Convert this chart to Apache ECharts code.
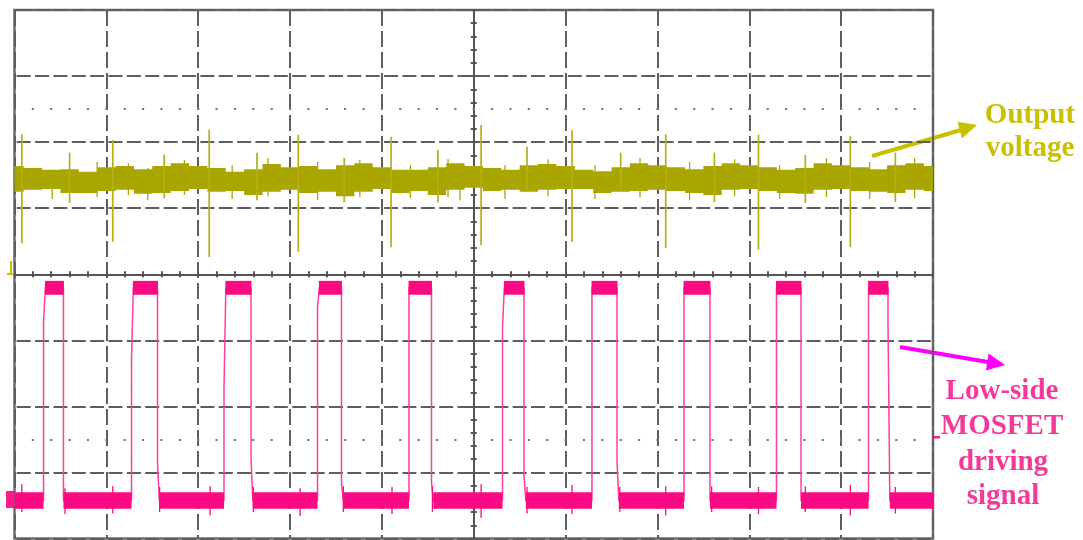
<!DOCTYPE html>
<html><head><meta charset="utf-8">
<script src="https://cdn.jsdelivr.net/npm/echarts@6/dist/echarts.min.js"></script>
<style>html,body{margin:0;padding:0;background:#fff}#c{width:1083px;height:540px}</style>
</head><body><div id="c"></div>
<script>
// Units: x = screen divisions from centre (-5..5), y = screen divisions (-4..4)

// Output voltage (channel 1): noise-band envelope
const envX = [-5.0,-4.8,-4.6,-4.4,-4.2,-4.0,-3.8,-3.6,-3.4,-3.2,-3.0,-2.8,-2.6,-2.4,-2.2,-2.0,-1.8,-1.6,-1.4,-1.2,-1.0,-0.8,-0.6,-0.4,-0.2,0.0,0.2,0.4,0.6,0.8,1.0,1.2,1.4,1.6,1.8,2.0,2.2,2.4,2.6,2.8,3.0,3.2,3.4,3.6,3.8,4.0,4.2,4.4,4.6,4.8,5.0];
const envTop = [1.64,1.61,1.58,1.59,1.55,1.62,1.64,1.59,1.64,1.68,1.64,1.61,1.55,1.59,1.67,1.62,1.64,1.59,1.65,1.68,1.62,1.58,1.58,1.62,1.68,1.64,1.61,1.58,1.65,1.67,1.64,1.58,1.56,1.62,1.68,1.65,1.62,1.59,1.64,1.68,1.65,1.62,1.58,1.61,1.68,1.65,1.62,1.59,1.65,1.68,1.64];
const envBottom = [1.25,1.28,1.29,1.23,1.23,1.26,1.28,1.22,1.23,1.26,1.29,1.25,1.26,1.20,1.25,1.28,1.23,1.25,1.18,1.25,1.29,1.23,1.26,1.20,1.28,1.31,1.26,1.28,1.25,1.28,1.29,1.29,1.23,1.25,1.26,1.28,1.26,1.23,1.20,1.28,1.29,1.26,1.23,1.22,1.28,1.29,1.26,1.25,1.23,1.28,1.26];

// Output voltage switching spikes (major then minor)
const spikeX = [-4.92,-3.93,-2.88,-1.91,-0.90,0.08,1.07,2.09,3.10,4.10,-4.40,-3.37,-2.36,-1.41,-0.39,0.58,1.60,2.62,3.61,4.59];
const spikeTop = [2.12,2.03,2.19,2.11,2.08,2.26,2.18,2.12,2.11,2.09,1.84,1.81,1.84,1.76,1.88,1.93,1.84,1.84,1.81,1.84];
const spikeBottom = [0.47,0.49,0.26,0.34,0.41,0.44,0.49,0.40,0.37,0.41,1.08,1.15,1.12,1.09,1.09,1.25,1.28,1.09,1.08,1.09];

// Output voltage small noise whiskers
const noiseX = [-4.59,-4.10,-3.76,-3.55,-3.15,-2.63,-2.24,-1.70,-1.24,-0.69,-0.28,-0.15,0.34,0.81,1.32,1.81,2.35,2.84,3.33,3.84,4.31,4.80];
const noiseTop = [1.58,1.70,1.68,1.61,1.73,1.65,1.76,1.70,1.73,1.65,1.74,1.68,1.65,1.74,1.65,1.76,1.70,1.74,1.65,1.76,1.70,1.76];
const noiseBottom = [1.14,1.17,1.20,1.12,1.20,1.14,1.18,1.12,1.17,1.15,1.17,1.12,1.14,1.18,1.14,1.17,1.12,1.18,1.14,1.17,1.14,1.15];

// Low-side MOSFET gate drive (channel 2)
const riseX = [-4.684,-3.726,-2.719,-1.701,-0.705,0.313,1.287,2.289,3.296,4.298];
const fallX = [-4.467,-3.443,-2.425,-1.440,-0.460,0.547,1.560,2.572,3.563,4.510];
const riseStep = [-0.72,-1.30,-1.71,-0.51,null,-0.80,null,null,null,null];
const fallStep = [null,-2.86,-2.78,-3.16,-3.15,-3.04,-2.84,null,null,-0.72];
const lowLevel = -3.43, highLevel = -0.20;
const lowBandTop = -3.30, lowBandBottom = -3.55;
const highBandTop = -0.10, highBandBottom = -0.31;
const gateNoiseX = [-4.92,-4.45,-3.93,-3.42,-2.87,-2.40,-1.89,-1.42,-0.89,-0.45,0.08,0.58,1.07,1.59,2.09,2.59,3.10,3.61,4.10,4.59];
const gateNoiseTop = [-3.18,-3.24,-3.21,-3.22,-3.21,-3.22,-3.24,-3.21,-3.22,-3.21,-3.18,-3.22,-3.19,-3.22,-3.21,-3.21,-3.22,-3.21,-3.19,-3.22];
const gateNoiseBottom = [-3.60,-3.63,-3.62,-3.60,-3.65,-3.60,-3.66,-3.60,-3.63,-3.60,-3.69,-3.62,-3.63,-3.60,-3.65,-3.60,-3.63,-3.60,-3.65,-3.62];

const SHIFT = 0.02;
const YELLOW = '#aaa600', PINK = '#fb0a84';

// build gate waveform path and bands
const gatePath = [[-5, lowLevel]];
const lowSegs = [], highSegs = [];
let prev = -5;
for (let i = 0; i < riseX.length; i++) {
  lowSegs.push([prev, riseX[i], lowBandTop, lowBandBottom]);
  gatePath.push([riseX[i], lowLevel]);
  let hx = riseX[i];
  if (riseStep[i] !== null) {
    gatePath.push([riseX[i], riseStep[i]], [riseX[i] + SHIFT, riseStep[i]]);
    hx = riseX[i] + SHIFT;
  }
  gatePath.push([hx, highLevel], [fallX[i], highLevel]);
  highSegs.push([hx - 0.005, fallX[i] + 0.005, highBandTop, highBandBottom]);
  let lx = fallX[i];
  if (fallStep[i] !== null) {
    gatePath.push([fallX[i], fallStep[i]], [fallX[i] + SHIFT, fallStep[i]]);
    lx = fallX[i] + SHIFT;
  }
  gatePath.push([lx, lowLevel]);
  prev = lx;
}
lowSegs.push([prev, 5, lowBandTop, lowBandBottom]);
gatePath.push([5, lowLevel]);

const spikes = spikeX.map((x, i) => [x, spikeTop[i], spikeBottom[i]]);
const noise = noiseX.map((x, i) => [x, noiseTop[i], noiseBottom[i]]);
const gateNoise = gateNoiseX.map((x, i) => [x, gateNoiseTop[i], gateNoiseBottom[i]]);
const bands = lowSegs.concat(highSegs);

function vline(color, w) {
  return function (params, api) {
    const a = api.coord([api.value(0), api.value(1)]);
    const b = api.coord([api.value(0), api.value(2)]);
    return {type: 'line', shape: {x1: a[0], y1: a[1], x2: b[0], y2: b[1]}, style: {stroke: color, lineWidth: w}};
  };
}

const GRIDC = '#5e5e5e';
const axisCommonX = {
  type: 'value', min: -5, max: 5, interval: 1,
  axisLine: {onZero: true, lineStyle: {color: '#555', width: 2}},
  axisTick: {show: true, length: 3, lineStyle: {color: '#555', width: 2}},
  minorTick: {show: true, splitNumber: 5, length: 3, lineStyle: {color: '#555', width: 2}},
  axisLabel: {show: false}
};
const axisCommonY = {
  type: 'value', min: -4, max: 4, interval: 1,
  axisLine: {onZero: true, lineStyle: {color: '#555', width: 2}},
  axisTick: {show: true, length: 3, lineStyle: {color: '#555', width: 2}},
  minorTick: {show: true, splitNumber: 5, length: 3, lineStyle: {color: '#555', width: 2}},
  axisLabel: {show: false}
};

const chart = echarts.init(document.getElementById('c'), null, {renderer: 'canvas'});
chart.setOption({
  animation: false,
  backgroundColor: '#fff',
  grid: {left: 14.5, top: 10, width: 918.5, height: 528.5, show: true, borderColor: '#6b6b6b', borderWidth: 2.5, containLabel: false},
  xAxis: [
    Object.assign({}, axisCommonX, {position: 'bottom', splitLine: {show: true, lineStyle: {color: GRIDC, width: 2, type: [16, 5]}}}),
    Object.assign({}, axisCommonX, {position: 'top', splitLine: {show: false}})
  ],
  yAxis: [
    Object.assign({}, axisCommonY, {position: 'left', splitLine: {show: true, lineStyle: {color: GRIDC, width: 2, type: [14, 4.37], dashOffset: 16.2}}}),
    Object.assign({}, axisCommonY, {position: 'right', splitLine: {show: false}})
  ],
  series: [
    {
      type: 'custom', name: 'Output voltage band', silent: true, z: 3,
      data: [0],
      renderItem: function (params, api) {
        const pts = [];
        for (let i = 0; i < envX.length; i++) {
          const x0 = Math.max(-5, envX[i] - 0.1), x1 = Math.min(5, envX[i] + 0.1);
          pts.push(api.coord([x0, envTop[i]]), api.coord([x1, envTop[i]]));
        }
        for (let i = envX.length - 1; i >= 0; i--) {
          const x0 = Math.max(-5, envX[i] - 0.1), x1 = Math.min(5, envX[i] + 0.1);
          pts.push(api.coord([x1, envBottom[i]]), api.coord([x0, envBottom[i]]));
        }
        return {type: 'polygon', shape: {points: pts}, style: {fill: YELLOW}};
      }
    },
    {type: 'custom', name: 'Output noise', silent: true, z: 3, data: noise, renderItem: vline(YELLOW, 1.3)},
    {type: 'custom', name: 'Output spikes', silent: true, z: 3, data: spikes, renderItem: vline('#b4b014', 1.7)},
    {
      type: 'line', name: 'Low-side MOSFET driving signal', data: gatePath, showSymbol: false, symbol: 'none', z: 2,
      lineStyle: {color: '#ff3d9e', width: 1.5}, silent: true,
      markLine: {
        silent: true, symbol: 'none', label: {show: false}, animation: false,
        lineStyle: {color: '#7a7a7a', width: 2.2, type: [2.2, 16.17], dashOffset: 1.1},
        data: [{yAxis: 2.5}, {yAxis: -2.5}]
      }
    },
    {
      type: 'custom', name: 'Gate bands', silent: true, z: 3, data: bands,
      renderItem: function (params, api) {
        const a = api.coord([api.value(0), api.value(2)]);
        const b = api.coord([api.value(1), api.value(3)]);
        return {type: 'rect', shape: {x: a[0], y: a[1], width: b[0] - a[0], height: b[1] - a[1]}, style: {fill: PINK}};
      }
    },
    {type: 'custom', name: 'Gate noise', silent: true, z: 3, data: gateNoise, renderItem: vline(PINK, 1.3)}
  ],
  graphic: [
    {type: 'line', shape: {x1: 872, y1: 156, x2: 961, y2: 130}, style: {stroke: '#c8c000', lineWidth: 4}},
    {type: 'polygon', shape: {points: [[977, 125], [962, 138.5], [957.4, 121.8]]}, style: {fill: '#c8c000'}},
    {type: 'text', x: 1030, y: 115.5, style: {text: 'Output', font: 'bold 29px "Liberation Serif"', fill: '#c8c000', align: 'center', verticalAlign: 'middle', textAlign: 'center', textVerticalAlign: 'middle'}},
    {type: 'text', x: 1030, y: 148.5, style: {text: 'voltage', font: 'bold 29px "Liberation Serif"', fill: '#c8c000', align: 'center', verticalAlign: 'middle', textAlign: 'center', textVerticalAlign: 'middle'}},
    {type: 'line', shape: {x1: 900, y1: 347, x2: 988, y2: 362}, style: {stroke: '#ff00ff', lineWidth: 4}},
    {type: 'polygon', shape: {points: [[1005, 365], [985.9, 370.5], [988.6, 353.6]]}, style: {fill: '#ff00ff'}},
    {type: 'text', x: 1002, y: 391.5, style: {text: 'Low-side', font: 'bold 29px "Liberation Serif"', fill: '#f5399a', align: 'center', verticalAlign: 'middle', textAlign: 'center', textVerticalAlign: 'middle'}},
    {type: 'text', x: 1002, y: 426.5, style: {text: 'MOSFET', font: 'bold 29px "Liberation Serif"', fill: '#f5399a', align: 'center', verticalAlign: 'middle', textAlign: 'center', textVerticalAlign: 'middle'}},
    {type: 'text', x: 1003, y: 462.5, style: {text: 'driving', font: 'bold 29px "Liberation Serif"', fill: '#f5399a', align: 'center', verticalAlign: 'middle', textAlign: 'center', textVerticalAlign: 'middle'}},
    {type: 'text', x: 1003, y: 496.5, style: {text: 'signal', font: 'bold 29px "Liberation Serif"', fill: '#f5399a', align: 'center', verticalAlign: 'middle', textAlign: 'center', textVerticalAlign: 'middle'}},
    {type: 'line', shape: {x1: 11, y1: 261, x2: 11, y2: 274}, style: {stroke: '#c8c000', lineWidth: 2}},
    {type: 'line', shape: {x1: 7, y1: 274, x2: 14, y2: 274}, style: {stroke: '#c8c000', lineWidth: 2}},
    {type: 'rect', shape: {x: 6, y: 491, width: 9, height: 17}, style: {fill: '#ff1a8c'}},
    {type: 'rect', shape: {x: 934, y: 436, width: 6, height: 2.5}, style: {fill: '#ff1a8c'}}
  ]
});
</script>
</body></html>
